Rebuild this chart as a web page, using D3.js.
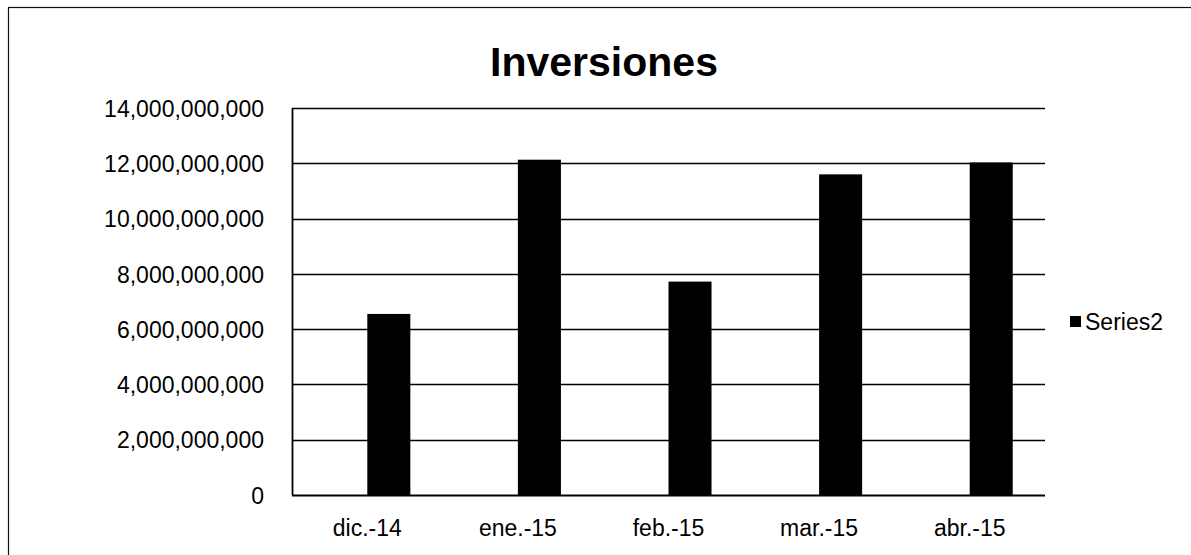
<!DOCTYPE html>
<html>
<head>
<meta charset="utf-8">
<script src="https://cdn.jsdelivr.net/npm/d3@7"></script>
<style>
  html, body { margin: 0; padding: 0; background: #fff; }
  svg { display: block; }
  text { font-family: "Liberation Sans", Arial, sans-serif; fill: #000; }
</style>
</head>
<body>
<svg id="chart" width="1191" height="555"></svg>
<script>
const title = "Inversiones";
const categories = ["dic.-14", "ene.-15", "feb.-15", "mar.-15", "abr.-15"];
const seriesName = "Series2";
const series2 = [6550000000, 12130000000, 7720000000, 11600000000, 12030000000];
const yTicks = [0, 2000000000, 4000000000, 6000000000, 8000000000, 10000000000, 12000000000, 14000000000];

const svg = d3.select("#chart");
const W = 1191, H = 555;
const plot = { left: 292, right: 1045, top: 108, bottom: 495 };

// outer chart frame
svg.append("rect")
  .attr("x", 8.5).attr("y", 7.5)
  .attr("width", W + 20).attr("height", H + 20)
  .attr("fill", "none").attr("stroke", "#111").attr("stroke-width", 1.2);

const x = d3.scaleBand().domain(categories).range([plot.left, plot.right]).paddingInner(0).paddingOuter(0);
const y = d3.scaleLinear().domain([0, 14000000000]).range([plot.bottom, plot.top]);

// gridlines
svg.append("g")
  .selectAll("line")
  .data(yTicks.filter(d => d > 0))
  .join("line")
  .attr("x1", plot.left).attr("x2", plot.right)
  .attr("y1", d => Math.round(y(d)) + 0.5).attr("y2", d => Math.round(y(d)) + 0.5)
  .attr("stroke", "#000").attr("stroke-width", 1.6);

// y axis
const yAxis = d3.axisLeft(y).tickValues(yTicks).tickSize(0).tickPadding(0)
  .tickFormat(d3.format(","));
const gy = svg.append("g").attr("transform", `translate(${plot.left - 28},0)`).call(yAxis);
gy.select(".domain").remove();
gy.selectAll("text")
  .style("font-family", "'Liberation Sans', Arial, sans-serif")
  .style("font-size", "23px")
  .attr("fill", "#000")
  .attr("dy", "0.36em");

svg.append("line")
  .attr("x1", plot.left + 0.5).attr("x2", plot.left + 0.5)
  .attr("y1", plot.top).attr("y2", plot.bottom)
  .attr("stroke", "#000").attr("stroke-width", 1.8);

// bars (Series2 sits in the right half of each clustered slot)
const barW = x.bandwidth() / 3.5;
svg.append("g")
  .selectAll("rect")
  .data(categories.map((c, i) => ({ c, v: series2[i] })))
  .join("rect")
  .attr("x", d => x(d.c) + x.bandwidth() / 2)
  .attr("y", d => y(d.v))
  .attr("width", barW)
  .attr("height", d => y(0) - y(d.v))
  .attr("fill", "#000");

// baseline
svg.append("line")
  .attr("x1", plot.left).attr("x2", plot.right)
  .attr("y1", plot.bottom + 0.5).attr("y2", plot.bottom + 0.5)
  .attr("stroke", "#000").attr("stroke-width", 1.8);

// x axis labels
const xAxis = d3.axisBottom(x).tickSize(0).tickPadding(0);
const gx = svg.append("g").attr("transform", `translate(0,${plot.bottom + 24})`).call(xAxis);
gx.select(".domain").remove();
gx.selectAll("text")
  .style("font-family", "'Liberation Sans', Arial, sans-serif")
  .style("font-size", "23px")
  .attr("fill", "#000")
  .attr("dy", "0.75em");

// title
svg.append("text")
  .attr("x", 604).attr("y", 76)
  .attr("text-anchor", "middle")
  .style("font-size", "41px").style("font-weight", "bold")
  .text(title);

// legend
svg.append("rect")
  .attr("x", 1070).attr("y", 316).attr("width", 11).attr("height", 11)
  .attr("fill", "#000");
svg.append("text")
  .attr("x", 1085).attr("y", 322)
  .attr("dy", "0.36em")
  .style("font-size", "23px")
  .text(seriesName);
</script>
</body>
</html>
